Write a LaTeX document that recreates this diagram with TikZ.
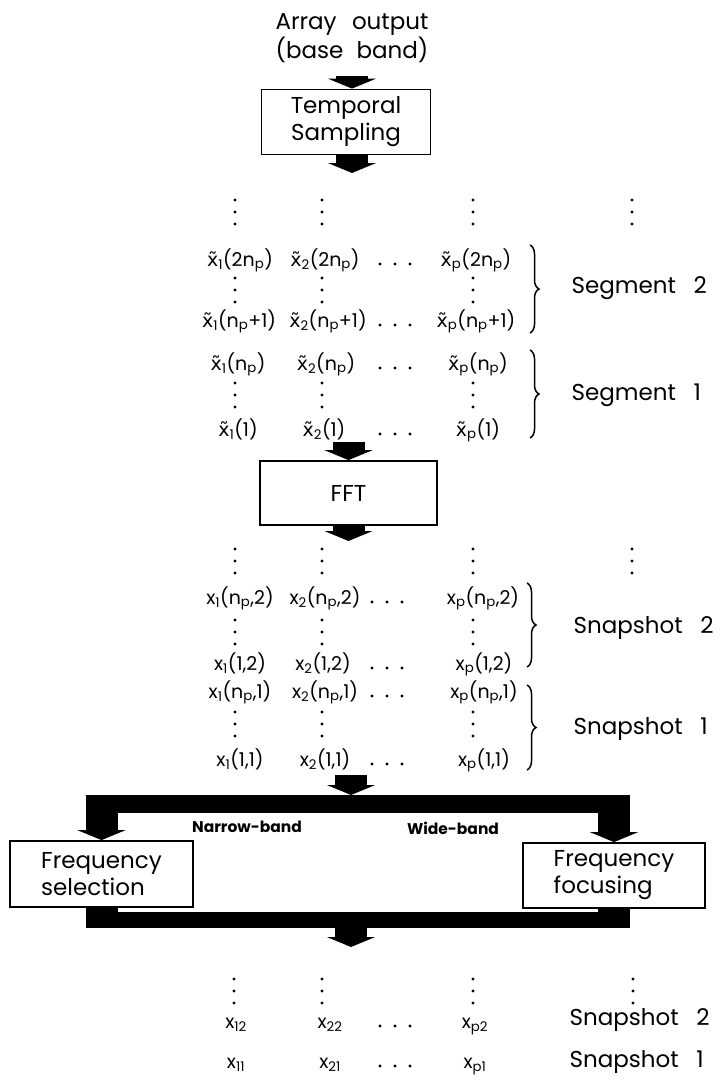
\documentclass[tikz,border=0pt]{standalone}
\usepackage{fontspec}
\setmainfont{Poppins}
\newfontfamily\tildefont{DejaVu Sans}
\usetikzlibrary{arrows.meta,decorations.pathreplacing,calc}

\newcommand{\np}{n\textsubscript{p}}
\newcommand{\xs}[2]{x\textsubscript{#1}(#2)}
\newcommand{\xts}[2]{{\tildefont x̃}\textsubscript{#1}(#2)}
% three dots, vertical and horizontal
\newcommand{\vdts}[2]{\foreach \k in {-12,0,12} \fill (#1,#2+\k) circle (1.6pt);}
\newcommand{\hdts}[2]{\foreach \k in {-15,0,15} \fill (#1+\k,#2) circle (1.6pt);}

\tikzset{
  blk/.style={draw,line width=1.8pt,font=\fontsize{23}{27}\selectfont,inner sep=0pt},
  lbl/.style={align=center,font=\fontsize{23}{27}\selectfont},
  ent/.style={anchor=base,font=\fontsize{19}{21}\selectfont,inner sep=0pt},
  tag/.style={anchor=west,font=\fontsize{23}{26}\selectfont},
  band/.style={font=\fontsize{15.5}{17}\selectfont\bfseries},
  fat/.style={line width=32pt,-{Triangle[length=10pt 0 0,width=48pt 0 0]}},
  bar/.style={line width=18pt},
  brc/.style={decorate,decoration={brace,amplitude=9pt},line width=1.5pt},
}

\begin{document}
\begin{tikzpicture}[x=1pt,y=-1pt]
\useasboundingbox (0,0) rectangle (723,1081);

% input and sampling
\node[lbl] (in) at (352,38) {Array\hspace{.4em} output\\(base\hspace{.3em} band)};
\node[blk,align=center,minimum width=169pt,minimum height=65pt] (ts) at (346,122) {Temporal\\Sampling};
\draw[fat] ($(in.south)+(0,10)$) -- (in.south |- ts.north);
\coordinate (tsout) at (352,173);
\draw[fat] (in.south |- ts.south) -- (tsout);

% segments
\node[ent] (t11) at (240,266) {\xts{1}{2\np}};
\node[ent] (t21) at (325,266) {\xts{2}{2\np}};
\node[ent] (tp1) at (476,266) {\xts{p}{2\np}};
\node[ent] (t12) at (239,327) {\xts{1}{\np+1}};
\node[ent] (t22) at (328,327) {\xts{2}{\np+1}};
\node[ent] (tp2) at (476,327) {\xts{p}{\np+1}};
\node[ent] (t13) at (238,370) {\xts{1}{\np}};
\node[ent] (t23) at (326,370) {\xts{2}{\np}};
\node[ent] (tp3) at (478,370) {\xts{p}{\np}};
\node[ent] (t14) at (238,436) {\xts{1}{1}};
\node[ent] (t24) at (324,436) {\xts{2}{1}};
\node[ent] (tp4) at (478,436) {\xts{p}{1}};
\foreach \x in {235,322,473,632} {\vdts{\x}{212}}
\foreach \x in {235,322,473} {\vdts{\x}{290} \vdts{\x}{395}}
\foreach \y in {264,325,368,434} {\hdts{395}{\y}}
\draw[brc] (530,245) -- (530,333);
\draw[brc] (530,350) -- (530,438);
\node[tag] (seg2) at (568,288) {Segment\hspace{.5em} 2};
\node[tag] (seg1) at (568,395) {Segment\hspace{.5em} 1};

% fft
\node[blk,minimum width=177pt,minimum height=64pt] (fft) at (348.5,493) {FFT};
\coordinate (fftin) at (348.5,442);
\coordinate (fftout) at (348.5,541);
\draw[fat] (fftin) -- (fft.north);
\draw[fat] (fft.south) -- (fftout);

% snapshots
\node[ent] (u11) at (240,604) {\xs{1}{\np,2}};
\node[ent] (u21) at (325,604) {\xs{2}{\np,2}};
\node[ent] (up1) at (483,604) {\xs{p}{\np,2}};
\node[ent] (u12) at (240,670) {\xs{1}{1,2}};
\node[ent] (u22) at (323,670) {\xs{2}{1,2}};
\node[ent] (up2) at (484,670) {\xs{p}{1,2}};
\node[ent] (u13) at (240,698) {\xs{1}{\np,1}};
\node[ent] (u23) at (325,698) {\xs{2}{\np,1}};
\node[ent] (up3) at (484,698) {\xs{p}{\np,1}};
\node[ent] (u14) at (240,766) {\xs{1}{1,1}};
\node[ent] (u24) at (325,766) {\xs{2}{1,1}};
\node[ent] (up4) at (484,766) {\xs{p}{1,1}};
\foreach \x in {235,322,473,632} {\vdts{\x}{561}}
\foreach \x in {235,322,473} {\vdts{\x}{632} \vdts{\x}{724}}
\foreach \y in {602,668,696,764} {\hdts{387}{\y}}
\draw[brc] (527,583) -- (527,667);
\draw[brc] (527,685) -- (527,770);
\node[tag] (snp2) at (570,628) {Snapshot\hspace{.5em} 2};
\node[tag] (snp1) at (570,729) {Snapshot\hspace{.5em} 1};

% narrow-band / wide-band
\node[blk,align=left,minimum width=183pt,minimum height=66pt] (sel) at (101.5,874) {Frequency\\selection};
\node[blk,align=left,minimum width=182pt,minimum height=65pt] (foc) at (614,875.5) {Frequency\\focusing};
\node[band] (nb) at (247,827) {Narrow-band};
\node[band] (wb) at (453,828) {Wide-band};
\coordinate (mix) at (351,775);
\coordinate (topbar) at (351,804);
\coordinate (botbar) at (351,920);
\coordinate (out) at (351,947);
\draw[fat] (mix) -- ($(topbar)+(0,-9)$);
\draw[bar] ($(sel.north |- topbar)+(-16,0)$) -- ($(foc.north |- topbar)+(16,0)$);
\draw[fat] ($(sel.north |- topbar)+(0,-9)$) -- (sel.north);
\draw[fat] ($(foc.north |- topbar)+(0,-9)$) -- (foc.north);
\draw[line width=32pt] (sel.south) -- ($(sel.south |- botbar)+(0,8)$);
\draw[line width=32pt] (foc.south) -- ($(foc.south |- botbar)+(0,8)$);
\draw[bar,line width=16pt] ($(sel.south |- botbar)+(-16,0)$) -- ($(foc.south |- botbar)+(16,0)$);
\draw[fat] ($(botbar)+(0,8)$) -- (out);

% result
\node[ent] (v12) at (236,1028) {x\textsubscript{12}};
\node[ent] (v22) at (330,1028) {x\textsubscript{22}};
\node[ent] (vp2) at (475,1028) {x\textsubscript{p2}};
\node[ent] (v11) at (236,1068) {x\textsubscript{11}};
\node[ent] (v21) at (330,1068) {x\textsubscript{21}};
\node[ent] (vp1) at (475,1068) {x\textsubscript{p1}};
\foreach \x in {234,322,473,633} {\vdts{\x}{991}}
\foreach \y in {1026,1066} {\hdts{395}{\y}}
\node[tag] (res2) at (566,1020) {Snapshot\hspace{.5em} 2};
\node[tag] (res1) at (566,1062) {Snapshot\hspace{.5em} 1};
\end{tikzpicture}
\end{document}
